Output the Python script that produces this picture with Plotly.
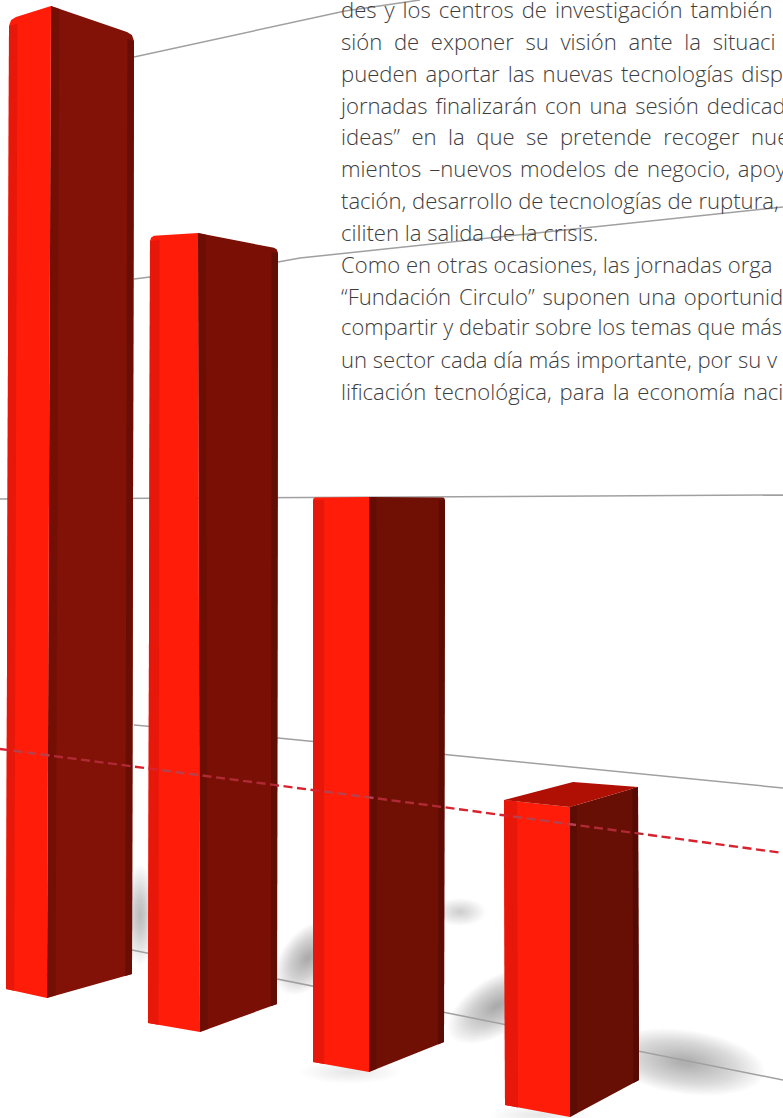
import numpy as np
import plotly.graph_objects as go

W, H = 783, 1118

# Bars: outline (x, then y at the base and at the top)
bar_names = ["A", "B", "C", "D"]
x_left = [9, 150, 313, 504]
x_edge = [51, 198, 369, 570]
x_right = [134, 278, 445, 638]
top_left = [19, 237, 498, 800]
top_edge = [6, 233, 497, 807]
top_right = [34, 249, 498, 787]
base_left = [989, 1023, 1062, 1105]
base_edge = [998, 1032, 1072, 1117]
base_right = [974, 1004, 1042, 1080]
x_left_base = [6, 148, 313, 505]
x_right_base = [132, 277, 444, 639]
x_edge_base = [47, 200, 369, 570]
corner_radius = [7, 4, 2, 0]
side_colour = ["#821207", "#7a1005", "#701005", "#670e05"]
side_edge_colour = ["#6a0e05", "#640d04", "#5c0c04", "#540b04"]

# Reference lines behind the bars
grid_x = [[134, 300, 345, 420], [134, 150, 278, 300, 783], [0, 783], [134, 278, 450, 783], [132, 783]]
grid_y = [[57, 21, 11, 0], [279, 277, 262, 258, 207], [499, 495], [725, 738, 755, 788], [950, 1080]]
dash_x = [0, 450, 783]
dash_y = [749, 808, 853]

# Soft shadows: centre x, centre y, half-length, half-width, tilt in degrees
shadow_cx = [140, 308, 497, 685, 460, 350, 540]
shadow_cy = [915, 958, 1006, 1062, 912, 1072, 1115]
shadow_rx = [16, 42, 55, 80, 26, 50, 50]
shadow_ry = [50, 26, 28, 32, 14, 12, 10]
shadow_rot = [0, -52, -32, 8, 0, 0, 0]
shadow_strength = [0.02, 0.024, 0.024, 0.026, 0.01, 0.006, 0.006]

THIN = "\u2009"
HAIR = "\u200a"
NBSP = "\u00a0"
text_lines = [
    "des y los centros de investigación también",
    "sión de exponer su visión ante la situaci",
    "pueden aportar las nuevas tecnologías disp",
    "jornadas finalizarán con una sesión dedicad",
    "ideas” en la que se pretende recoger nue",
    "mientos –nuevos modelos de negocio, apoy",
    "tación, desarrollo de tecnologías de ruptura,",
    "ciliten la salida de la crisis.",
    "Como en otras ocasiones, las jornadas orga",
    "“Fundación Circulo” suponen una oportunid",
    "compartir y debatir sobre los temas que más",
    "un sector cada día más importante, por su v",
    "lificación tecnológica, para la economía naci",
]
# Extra word spacing of the justified column, line by line
line_padding = [HAIR, THIN + HAIR, HAIR, HAIR, NBSP, HAIR, "", "", "", HAIR, "", "", HAIR]
line_font_size = [22.1] * 10 + [21.9, 22.1, 22.1]
text_x = [341] * len(text_lines)
text_y = [12, 44, 76, 108, 139, 171, 203, 235, 267, 299, 330, 362, 394]

fig = go.Figure()


def poly(xs, ys, color, opacity=1.0):
    fig.add_trace(go.Scatter(x=list(xs), y=list(ys), mode="lines", fill="toself", fillcolor=color,
                             line=dict(width=0), opacity=opacity, hoverinfo="skip", showlegend=False))


for cx, cy, rx, ry, rot, s in zip(shadow_cx, shadow_cy, shadow_rx, shadow_ry, shadow_rot, shadow_strength):
    t = np.linspace(0, 2 * np.pi, 50)
    a = np.radians(rot)
    for k in np.linspace(1.0, 0.08, 24):
        ex, ey = rx * k * np.cos(t), ry * k * np.sin(t)
        poly(cx + ex * np.cos(a) - ey * np.sin(a), cy + ex * np.sin(a) + ey * np.cos(a), "#5c615e", s)

for gx, gy in zip(grid_x, grid_y):
    fig.add_trace(go.Scatter(x=gx, y=gy, mode="lines", line=dict(color="#a0a0a0", width=1.5),
                             hoverinfo="skip", showlegend=False))

fig.add_trace(go.Scatter(x=text_x, y=text_y, mode="text",
                         text=[s.replace(" ", p + " ") for s, p in zip(text_lines, line_padding)],
                         textposition="middle right",
                         textfont=dict(family="Open Sans", size=line_font_size, color="#3d3d3d", weight=300),
                         hoverinfo="skip", showlegend=False))

for i in range(4):
    xl, xe, xr = x_left[i], x_edge[i], x_right[i]
    xlb, xeb, xrb = x_left_base[i], x_edge_base[i], x_right_base[i]
    tl, te, tr = top_left[i], top_edge[i], top_right[i]
    bl, be, br = base_left[i], base_edge[i], base_right[i]
    r = corner_radius[i]
    # dark side face, with the outer corner rounded
    poly([xe, xr - r, xr - r * 0.3, xr, xrb, xeb],
         [te, tr - r * 0.3, tr + r * 0.15, tr + r, br, be], side_colour[i])
    f0, f1 = 0.92, 0.1
    poly([xe + f0 * (xr - xe), xr, xrb, xeb + f0 * (xrb - xeb)],
         [te + f0 * (tr - te) + r, tr + r, br, be + f0 * (br - be)], side_edge_colour[i])
    poly([xe, xe + f1 * (xr - xe), xeb + f1 * (xrb - xeb), xeb],
         [te, te + f1 * (tr - te), be + f1 * (br - be), be], side_edge_colour[i], 0.6)
    # bright front face
    poly([xl, xl + r * 0.3, xl + r, xe, xeb, xlb], [tl + r, tl + r * 0.15, tl - r * 0.3, te, be, bl], "#ff1c08")
    g = 0.2
    poly([xl, xl + g * (xe - xl), xlb + g * (xeb - xlb), xlb],
         [tl + r, tl + g * (te - tl) + r, bl + g * (be - bl), bl], "#e7170a")

# Top face of the shortest bar
poly([x_left[3], 573, x_right[3], x_edge[3]], [top_left[3], 782, top_right[3], top_edge[3]], "#b00f04")

# The dashed line runs over everything; its ink blends with what lies below
dash_on, dash_off = 9.0, 4.5
dash_px = np.arange(0.0, W, dash_on + dash_off)


def region(x):
    for i in range(4):
        if x_left[i] <= x < x_edge[i]:
            return "front"
        if x_edge[i] <= x < x_right[i]:
            return "side"
    return "paper"


dash_colours = {"paper": "#d8232f", "front": "#b8404c", "side": "#b02a35"}
for name, colour in dash_colours.items():
    xs, ys = [], []
    for x0 in dash_px:
        if region(x0) == name:
            x1 = x0 + dash_on
            xs += [x0, x1, None]
            ys += [float(np.interp(x0, dash_x, dash_y)), float(np.interp(x1, dash_x, dash_y)), None]
    fig.add_trace(go.Scatter(x=xs, y=ys, mode="lines", line=dict(color=colour, width=2.4),
                             hoverinfo="skip", showlegend=False))

fig.update_layout(
    width=W, height=H, margin=dict(l=0, r=0, t=0, b=0), paper_bgcolor="white", plot_bgcolor="white",
    showlegend=False,
    xaxis=dict(range=[0, W], visible=False, fixedrange=True),
    yaxis=dict(range=[H, 0], visible=False, fixedrange=True),
)
fig.write_html("out.html", config=dict(displayModeBar=False, responsive=False), include_plotlyjs=True,
               post_script="document.body.style.margin='0';document.documentElement.style.overflow='hidden';")
